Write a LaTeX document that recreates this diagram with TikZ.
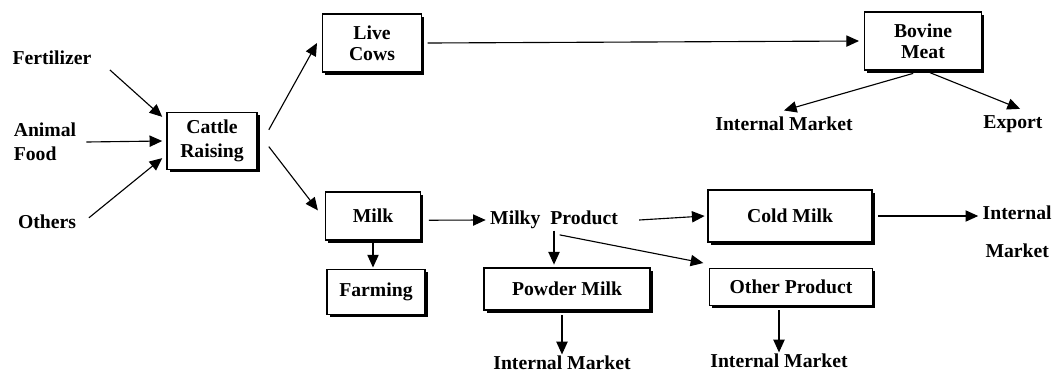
\documentclass[tikz,border=0pt]{standalone}
\usepackage{fontspec}
\setmainfont{Liberation Serif}
\usetikzlibrary{arrows.meta,shadows}

\begin{document}
\begin{tikzpicture}[
				x=0.025cm, y=-0.025cm,
				every node/.style={font=\bfseries\fontsize{14}{17}\selectfont, inner sep=1pt},
				box/.style={draw, fill=white, thick, align=center, drop shadow={shadow xshift=1.8pt, shadow yshift=-1.8pt, fill=black, opacity=1}},
				link/.style={draw, -{Triangle[length=9pt,width=8pt]}, line width=0.8pt}
				]
				\useasboundingbox (0,0) rectangle (1059,376);
				
				% Đầu vào
				\node (fertilizer) at (52,58) {Fertilizer};
				\node[align=left] (animalFood) at (45,142) {Animal\\Food};
				\node (others) at (47,222) {Others};
				
				% Các hộp
				\node[box, minimum width=2.25cm, minimum height=1.425cm] (cattle) at (212,141) {Cattle\\Raising};
				\node[box, minimum width=2.475cm, minimum height=1.45cm] (liveCows) at (372,43) {Live\\[-2pt]Cows};
				\node[box, minimum width=2.925cm, minimum height=1.45cm] (bovineMeat) at (923,41) {Bovine\\[-2pt]Meat};
				\node[box, minimum width=2.375cm, minimum height=1.2cm] (milk) at (373,216) {Milk};
				\node[box, minimum width=2.45cm, minimum height=1.125cm] (farming) at (376,292) {Farming};
				\node[box, minimum width=4.15cm, minimum height=1.05cm] (powderMilk) at (567,289) {Powder Milk};
				\node[box, minimum width=4.1cm, minimum height=1.3cm] (coldMilk) at (790,216) {Cold Milk};
				\node[box, minimum width=4.075cm, minimum height=0.925cm] (otherProduct) at (791,287) {Other Product};
				
				% Nhãn không khung
				\node (milkyProduct) at (554,220) {Milky\ \ Product};
				\node (marketA) at (784,124) {Internal Market};
				\node (export) at (1013,124) {Export};
				\node[anchor=west, align=left] (marketB) at (981,232) {Internal\\[10pt]\hspace{2pt}Market};
				\node (marketC) at (562,363) {Internal Market};
				\node (marketD) at (779,361) {Internal Market};
				
				% Mũi tên
				\draw[link] ([shift={(12pt,-8.5pt)}]fertilizer.east) -- ([shift={(-3pt,-3.5pt)}]cattle.north west);
				\draw[link] ([xshift=6pt]animalFood.east) -- ([xshift=-3pt]cattle.west);
				\draw[link] ([shift={(8pt,3pt)}]others.east) -- ([shift={(-3pt,8.5pt)}]cattle.south west);
				\draw[link] ([shift={(8pt,8pt)}]cattle.east) -- ([xshift=-3.5pt]liveCows.west);
				\draw[link] ([shift={(8pt,-4pt)}]cattle.east) -- ([shift={(-5pt,4pt)}]milk.west);
				\draw[link] ([xshift=4pt]liveCows.east) -- ([xshift=-3.5pt]bovineMeat.west);
				\draw[link] ([shift={(-7pt,-2pt)}]bovineMeat.south) -- ([yshift=3.5pt]marketA.north);
				\draw[link] ([shift={(5pt,-1.5pt)}]bovineMeat.south) -- ([shift={(5pt,3.5pt)}]export.north);
				\draw[link] ([shift={(5.5pt,-3pt)}]milk.east) -- ([xshift=-2pt]milkyProduct.west);
				\draw[link] (milk.south) -- ([yshift=1pt]milk.south |- farming.north);
				\draw[link] ([xshift=14pt]milkyProduct.east) -- ([xshift=-2pt]coldMilk.west);
				\draw[link] (milkyProduct.south) -- ([yshift=2pt]milkyProduct.south |- powderMilk.north);
				\draw[link] ([shift={(4pt,-3pt)}]milkyProduct.south) -- ([shift={(-4pt,3.5pt)}]otherProduct.north west);
				\draw[link] ([xshift=4pt]coldMilk.east) -- ([xshift=-2pt]marketB.west |- coldMilk.east);
				\draw[link] ([yshift=-3pt]marketC.north |- powderMilk.south) -- (marketC.north);
				\draw[link] ([yshift=-3pt]marketD.north |- otherProduct.south) -- (marketD.north);
				
			\end{tikzpicture}
\end{document}
